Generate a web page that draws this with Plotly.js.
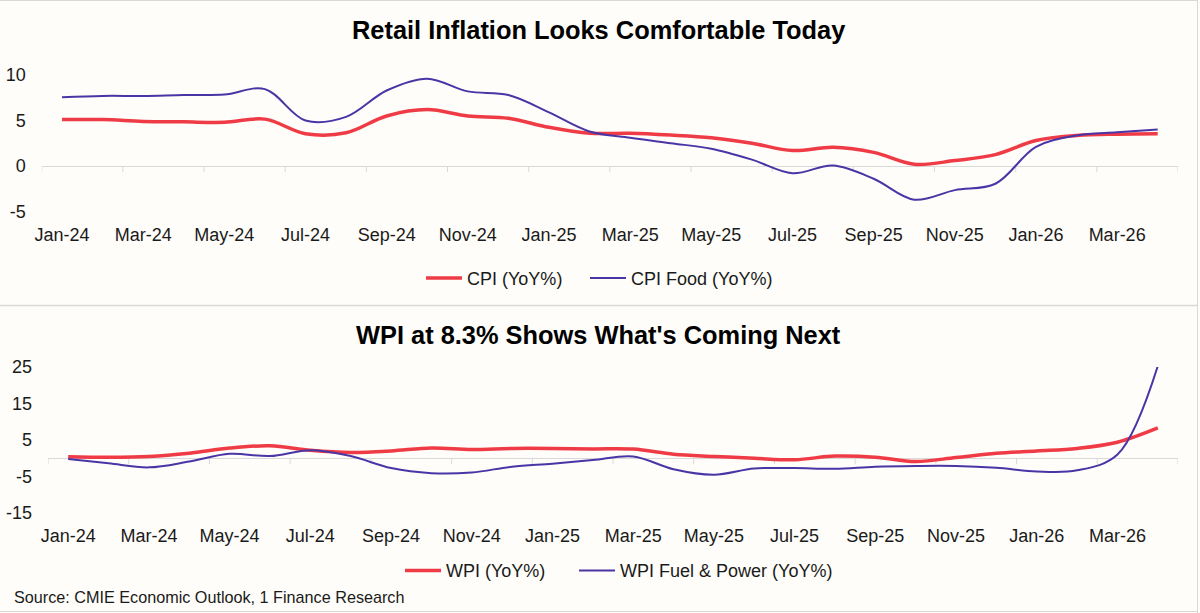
<!DOCTYPE html>
<html>
<head>
<meta charset="utf-8">
<script src="https://cdn.plot.ly/plotly-3.0.1.min.js"></script>
<style>html,body{margin:0;padding:0;background:#FEFDF9;}#chart{width:1200px;height:613px;}</style>
</head>
<body>
<div id="chart"></div>
<script>
// ---------- DATA ----------
const months = ["Jan-24","Feb-24","Mar-24","Apr-24","May-24","Jun-24","Jul-24","Aug-24","Sep-24","Oct-24","Nov-24","Dec-24",
                "Jan-25","Feb-25","Mar-25","Apr-25","May-25","Jun-25","Jul-25","Aug-25","Sep-25","Oct-25","Nov-25","Dec-25",
                "Jan-26","Feb-26","Mar-26","Apr-26"];
const cpi      = [5.1,5.1,4.9,4.85,4.8,5.15,3.55,3.65,5.5,6.2,5.5,5.25,4.25,3.6,3.6,3.4,3.1,2.5,1.7,2.05,1.5,0.2,0.6,1.25,2.8,3.35,3.5,3.55];
const cpiFood  = [7.55,7.7,7.7,7.8,7.85,8.45,5.0,5.4,8.3,9.6,8.2,7.8,5.9,3.8,3.1,2.5,1.9,0.7,-0.8,0.05,-1.4,-3.7,-2.65,-1.95,2.1,3.35,3.7,4.0];
const wpi      = [0.4,0.25,0.45,1.35,2.8,3.4,2.2,1.6,2.0,2.8,2.4,2.7,2.7,2.55,2.5,1.1,0.5,0.0,-0.4,0.6,0.3,-0.9,0.2,1.35,2.0,2.7,4.4,8.3];
const wpiFuel  = [-0.2,-1.4,-2.5,-0.9,1.2,0.6,2.2,0.6,-2.7,-4.1,-3.9,-2.3,-1.5,-0.5,0.5,-3.0,-4.5,-2.8,-2.7,-2.9,-2.3,-2.1,-2.1,-2.6,-3.6,-3.3,1.0,25.3];
const topTicks = [-5,0,5,10];
const botTicks = [-15,-5,5,15,25];
const topRange = [-5,10];
const botRange = [-15,25];

// ---------- STYLE / LAYOUT ----------
const W = 1200, H = 613;
const RED = '#EF3B45', PURPLE = '#4B35A6', GRID = '#D9D9D9', TXT = '#1a1a1a';
const FONT = 'Liberation Sans, Arial, sans-serif';
const idx = months.map((m,i)=>i);
const labelIdx = idx.filter(i=>i%2===0);
const labelTxt = labelIdx.map(i=>months[i]);
const px = v => v / W;
const py = v => 1 - v / H;

const topDom = {x:[px(41.7), px(1178)], y:[py(211.5), py(75)]};
const botDom = {x:[px(48), px(1178)], y:[py(513), py(367)]};

const traces = [
  {x: idx, y: cpi, name: 'CPI (YoY%)', type:'scatter', mode:'lines', line:{color:RED,width:3.5,shape:'spline',smoothing:1}, xaxis:'x', yaxis:'y', legend:'legend', hoverinfo:'skip'},
  {x: idx, y: cpiFood, name: 'CPI Food (YoY%)', type:'scatter', mode:'lines', line:{color:PURPLE,width:2,shape:'spline',smoothing:1}, xaxis:'x', yaxis:'y', legend:'legend2', hoverinfo:'skip'},
  {x: idx, y: wpi, name: 'WPI (YoY%)', type:'scatter', mode:'lines', line:{color:RED,width:3.5,shape:'spline',smoothing:1}, xaxis:'x2', yaxis:'y2', legend:'legend3', hoverinfo:'skip'},
  {x: idx, y: wpiFuel, name: 'WPI Fuel & Power (YoY%)', type:'scatter', mode:'lines', line:{color:PURPLE,width:2,shape:'spline',smoothing:1}, xaxis:'x2', yaxis:'y2', legend:'legend4', hoverinfo:'skip'}
];

function xAx(dom, anchor){
  return {domain: dom, anchor: anchor, range:[-0.5, months.length-0.5], tickmode:'array', tickvals: labelIdx, ticktext: labelTxt,
          showgrid:false, zeroline:false, showline:false, ticks:'', ticklabelstandoff: 10,
          tickfont:{family:FONT,size:18,color:TXT}, fixedrange:true};
}
function yAx(dom, anchor, range, ticks){
  return {domain: dom, anchor: anchor, range: range, tickmode:'array', tickvals: ticks, ticktext: ticks.map(String),
          showgrid:false, zeroline:true, zerolinecolor:GRID, zerolinewidth:1, showline:false, ticks:'', ticklabelstandoff: 15,
          tickfont:{family:FONT,size:18,color:TXT}, fixedrange:true};
}

// boundary tick marks on the zero line (every 2 categories)
const shapes = [];
const bounds = [];
for (let b = 0; b <= months.length; b += 2) bounds.push(b - 0.5);
[['x','y'],['x2','y2']].forEach(([xr,yr])=>{
  bounds.forEach(b=>{
    shapes.push({type:'line', xref:xr, yref:yr, x0:b, x1:b, ysizemode:'pixel', yanchor:0, y0:0, y1:-6,
                 line:{color:GRID,width:1}, layer:'below'});
  });
});
// chart frame lines
shapes.push({type:'line', xref:'paper', yref:'paper', x0:0, x1:px(1197.5), y0:py(0.5), y1:py(0.5), line:{color:GRID,width:1}});
shapes.push({type:'line', xref:'paper', yref:'paper', x0:0, x1:px(1197.5), y0:py(305.5), y1:py(305.5), line:{color:GRID,width:1.5}});
shapes.push({type:'line', xref:'paper', yref:'paper', x0:px(1197.5), x1:px(1197.5), y0:0, y1:1, line:{color:GRID,width:1}});
shapes.push({type:'line', xref:'paper', yref:'paper', x0:0, x1:px(1197.5), y0:py(611.5), y1:py(611.5), line:{color:GRID,width:1}});

function leg(xpix, ypix){
  return {x: px(xpix), y: py(ypix), xanchor:'left', yanchor:'middle', orientation:'h', bgcolor:'rgba(0,0,0,0)',
          font:{family:FONT,size:18,color:TXT}, itemwidth:36, tracegroupgap:0};
}

const layout = {
  width: W, height: H, margin:{l:0,r:0,t:0,b:0},
  paper_bgcolor:'#FEFDF9', plot_bgcolor:'#FEFDF9',
  showlegend:true,
  xaxis: xAx(topDom.x,'y'),
  yaxis: yAx(topDom.y,'x', topRange, topTicks),
  xaxis2: xAx(botDom.x,'y2'),
  yaxis2: yAx(botDom.y,'x2', botRange, botTicks),
  legend: leg(421, 278.3),
  legend2: leg(585, 278.3),
  legend3: leg(400, 570.7),
  legend4: leg(574, 570.7),
  shapes: shapes,
  annotations: [
    {text:'Retail Inflation Looks Comfortable Today', xref:'paper', yref:'paper', x:px(598), y:py(29.5), xanchor:'center', yanchor:'middle',
     showarrow:false, font:{family:FONT,size:25.4,weight:700,color:'#000'}},
    {text:"WPI at 8.3% Shows What's Coming Next", xref:'paper', yref:'paper', x:px(598), y:py(334.5), xanchor:'center', yanchor:'middle',
     showarrow:false, font:{family:FONT,size:25.4,weight:700,color:'#000'}},
    {text:'Source: CMIE Economic Outlook, 1 Finance Research', xref:'paper', yref:'paper', x:px(11.5), y:py(597), xanchor:'left', yanchor:'middle',
     showarrow:false, font:{family:FONT,size:16.2,color:TXT}}
  ]
};

Plotly.newPlot('chart', traces, layout, {displayModeBar:false, staticPlot:true});
</script>
</body>
</html>
